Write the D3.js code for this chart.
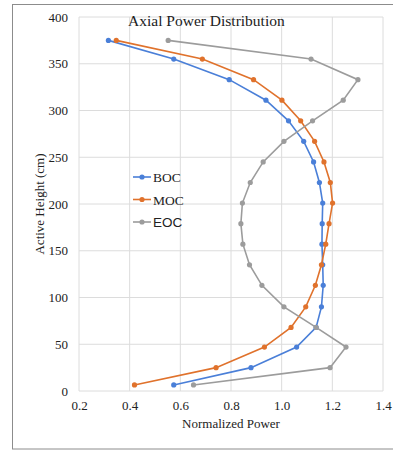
<!DOCTYPE html>
<html>
<head>
<meta charset="utf-8">
<script src="https://cdn.jsdelivr.net/npm/d3@7"></script>
<style>
  body { margin: 0; background: #fff; }
  svg text { font-family: "Liberation Serif", "DejaVu Serif", serif; fill: #222; }
</style>
</head>
<body>
<div id="chart"></div>
<script>
// heights (cm) of the axial nodes, top to bottom
const heights = [375, 355, 333, 311, 289, 267, 245, 223, 201, 179, 157, 135, 113, 90, 68, 47, 25, 6.5];
const boc = [0.316, 0.574, 0.793, 0.938, 1.027, 1.087, 1.126, 1.149, 1.162, 1.160, 1.159, 1.162, 1.164, 1.157, 1.136, 1.059, 0.879, 0.574];
const moc = [0.347, 0.687, 0.889, 1.001, 1.075, 1.130, 1.167, 1.192, 1.201, 1.187, 1.174, 1.157, 1.133, 1.095, 1.037, 0.932, 0.741, 0.419];
const eoc = [0.552, 1.116, 1.301, 1.243, 1.122, 1.009, 0.927, 0.876, 0.845, 0.839, 0.847, 0.873, 0.922, 1.009, 1.136, 1.254, 1.191, 0.652];
const seriesNames = ['BOC', 'MOC', 'EOC'];
const xTicks = [0.2, 0.4, 0.6, 0.8, 1.0, 1.2, 1.4];
const yTicks = [0, 50, 100, 150, 200, 250, 300, 350, 400];

const width = 393;
const height = 454;
const colors = {BOC: '#4a7fd8', MOC: '#e0722c', EOC: '#9c9c9c'};

const svg = d3.select('#chart').append('svg')
  .attr('width', width)
  .attr('height', height);

// outer frame (runs off the right edge)
svg.append('rect')
  .attr('x', 12.5).attr('y', 4.5)
  .attr('width', 420).attr('height', 444.5)
  .attr('fill', 'none')
  .attr('stroke', '#8c8c8c')
  .attr('stroke-width', 1);

const plot = {left: 79, right: 383, top: 17, bottom: 391};

const xScale = d3.scaleLinear().domain([0.2, 1.4]).range([plot.left, plot.right]);
const yScale = d3.scaleLinear().domain([0, 400]).range([plot.bottom, plot.top]);

// grid
const grid = svg.append('g').classed('grid', true);
grid.selectAll('.vx')
  .data(xTicks)
  .enter().append('line')
  .attr('x1', d => xScale(d)).attr('x2', d => xScale(d))
  .attr('y1', plot.top).attr('y2', plot.bottom)
  .attr('stroke', '#dcdcdc').attr('stroke-width', 1);
grid.selectAll('.hy')
  .data(yTicks)
  .enter().append('line')
  .attr('y1', d => yScale(d)).attr('y2', d => yScale(d))
  .attr('x1', plot.left).attr('x2', plot.right)
  .attr('stroke', '#dcdcdc').attr('stroke-width', 1);

// axes (labels only, lines come from the grid)
const xAxis = d3.axisBottom(xScale).tickValues(xTicks).tickSize(0).tickPadding(10)
  .tickFormat(d3.format('.1f'));
const xAxisGroup = svg.append('g')
  .attr('transform', `translate(0,${plot.bottom})`)
  .call(xAxis);
xAxisGroup.select('.domain').remove();
xAxisGroup.selectAll('text')
  .style('font-family', '"Liberation Serif", serif')
  .style('font-size', '13px')
  .attr('fill', '#222');

const yAxis = d3.axisLeft(yScale).tickValues(yTicks).tickSize(0).tickPadding(11);
const yAxisGroup = svg.append('g')
  .attr('transform', `translate(${plot.left},0)`)
  .call(yAxis);
yAxisGroup.select('.domain').remove();
yAxisGroup.selectAll('text')
  .style('font-family', '"Liberation Serif", serif')
  .style('font-size', '13px')
  .attr('fill', '#222');

// titles
svg.append('text')
  .attr('x', 128).attr('y', 26)
  .style('font-size', '15.5px')
  .text('Axial Power Distribution');

svg.append('text')
  .attr('x', (plot.left + plot.right) / 2).attr('y', 428)
  .attr('text-anchor', 'middle')
  .style('font-size', '13px')
  .text('Normalized Power');

svg.append('text')
  .attr('transform', `translate(44,${(plot.top + plot.bottom) / 2}) rotate(-90)`)
  .attr('text-anchor', 'middle')
  .style('font-size', '13px')
  .text('Active Height (cm)');

// series
const allSeries = [boc, moc, eoc].map((vals, i) => ({
  name: seriesNames[i],
  points: vals.map((v, j) => ({x: v, y: heights[j]}))
}));

const line = d3.line().x(d => xScale(d.x)).y(d => yScale(d.y));

const seriesGroup = svg.selectAll('.series')
  .data(allSeries)
  .enter().append('g')
  .classed('series', true);

seriesGroup.append('path')
  .attr('d', d => line(d.points))
  .attr('fill', 'none')
  .attr('stroke', d => colors[d.name])
  .attr('stroke-width', 1.6);

seriesGroup.selectAll('circle')
  .data(d => d.points.map(p => ({...p, name: d.name})))
  .enter().append('circle')
  .attr('cx', d => xScale(d.x))
  .attr('cy', d => yScale(d.y))
  .attr('r', 2.6)
  .attr('fill', d => colors[d.name]);

// legend
const legend = svg.append('g').attr('transform', 'translate(133,177)');
const legendItems = legend.selectAll('.item')
  .data(seriesNames)
  .enter().append('g')
  .attr('transform', (d, i) => `translate(0,${i * 22.5})`);
legendItems.append('line')
  .attr('x1', 0).attr('x2', 18)
  .attr('stroke', d => colors[d]).attr('stroke-width', 1.6);
legendItems.append('circle')
  .attr('cx', 9).attr('r', 2.6)
  .attr('fill', d => colors[d]);
legendItems.append('text')
  .attr('x', 20).attr('y', 5)
  .style('font-size', '13.5px')
  .style('font-family', d => d === 'EOC' ? '"Liberation Sans", Arial, sans-serif' : null)
  .text(d => d);
</script>
</body>
</html>
